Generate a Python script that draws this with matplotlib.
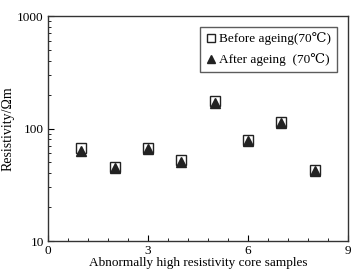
import matplotlib
matplotlib.use("Agg")
import matplotlib.pyplot as plt
from matplotlib.ticker import MultipleLocator, LogLocator, FixedLocator

plt.rcParams['font.family'] = ['Liberation Serif', 'DejaVu Serif', 'Noto Sans CJK SC']
plt.rcParams['mathtext.fontset'] = 'stix'

# data
samples = [1, 2, 3, 4, 5, 6, 7, 8]
before = [67.5, 45.2, 66.7, 52.2, 175, 79, 115, 42.5]
after = [63.5, 45, 65.8, 50.4, 169, 78, 113, 42]

fig = plt.figure(figsize=(3.6, 2.74), dpi=100)
ax = fig.add_axes([0.1333, 0.1204, 0.8333, 0.8212])

ax.plot(samples, before, ls='none', marker='s', ms=7, mfc='white', mec='#222222',
        mew=1.0, label='Before ageing(70\u2103)')
ax.plot(samples, after, ls='none', marker='^', ms=6.5, mfc='#222222', mec='#222222',
        label='After ageing  (70\u2103)')

ax.set_yscale('log')
ax.set_xlim(0, 9)
ax.set_ylim(10, 1000)
ax.xaxis.set_major_locator(FixedLocator([0, 3, 6, 9]))
ax.xaxis.set_minor_locator(MultipleLocator(0.6))
ax.yaxis.set_major_locator(FixedLocator([10, 100, 1000]))
ax.yaxis.set_minor_locator(LogLocator(base=10, subs=range(2, 10)))
ax.set_yticklabels(['10', '100', '1000'])
ax.tick_params(which='both', direction='in', top=False, right=False, labelsize=9.5, pad=3)
ax.tick_params(which='major', length=4)
ax.tick_params(which='minor', length=2.5)
for s in ax.spines.values():
    s.set_linewidth(1.0)
    s.set_color('#333333')

ax.set_xlabel('Abnormally high resistivity core samples', fontsize=9.5, labelpad=0)
ax.set_ylabel('Resistivity/\u03a9m', fontsize=10, labelpad=2)

leg = ax.legend(loc='upper right', fontsize=9.5, frameon=True, fancybox=False,
                edgecolor='#333333', handlelength=0.7, handletextpad=0.3,
                borderpad=0.45, labelspacing=0.6, borderaxespad=0.8, markerscale=0.9)
leg.get_frame().set_linewidth(1.0)

fig.savefig('out.png', dpi=100)
